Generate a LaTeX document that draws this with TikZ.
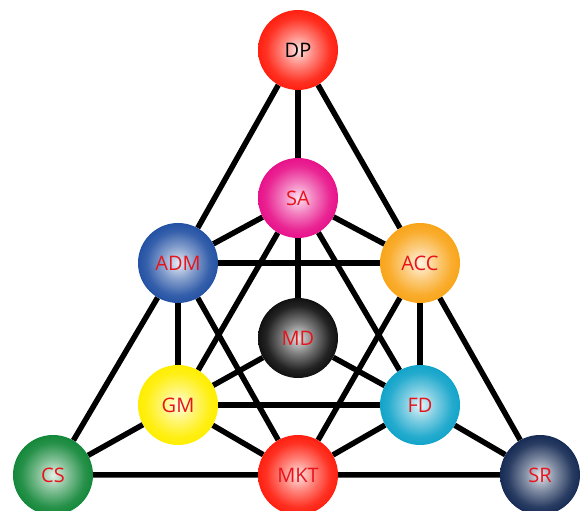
\documentclass[tikz,border=0pt]{standalone}
\usepackage{fontspec}
\setmainfont{Open Sans}
\usepackage{tikz}
\usetikzlibrary{backgrounds}

\definecolor{dpred}{HTML}{FF2010}
\definecolor{sapink}{HTML}{E8128A}
\definecolor{admblue}{HTML}{2452A4}
\definecolor{accorange}{HTML}{F9A51A}
\definecolor{mdblack}{HTML}{111111}
\definecolor{gmyellow}{HTML}{FFEE00}
\definecolor{fdcyan}{HTML}{12A4CA}
\definecolor{csgreen}{HTML}{14883A}
\definecolor{srnavy}{HTML}{172C55}
\definecolor{labelred}{HTML}{E8141C}
\colorlet{ballc}{red}

\pgfdeclareradialshading[ballc]{ballshade}{\pgfpoint{0bp}{0bp}}{%
  color(0bp)=(ballc!12!white); color(10bp)=(ballc!55!white);
  color(20bp)=(ballc!92!white); color(25bp)=(ballc); color(50bp)=(ballc)}

\tikzset{
  ball/.style={circle, minimum size=80pt, inner sep=0pt, font=\fontsize{20}{20}\selectfont,
    text=labelred, /utils/exec={\colorlet{ballc}{#1}}, shading=ballshade, shade},
  link/.style={line width=5.5pt, black}
}

\begin{document}
\begin{tikzpicture}[x=1pt, y=1pt]
    \useasboundingbox (0,0) rectangle (581,511);

    \node[ball=dpred, text=black] (DP) at (298,461) {DP};
    \node[ball=sapink] (SA) at (298,313) {SA};
    \node[ball=admblue] (ADM) at (178,248) {ADM};
    \node[ball=accorange] (ACC) at (420,248) {ACC};
    \node[ball=mdblack] (MD) at (298,173) {MD};
    \node[ball=gmyellow] (GM) at (178,106) {GM};
    \node[ball=fdcyan] (FD) at (420,106) {FD};
    \node[ball=csgreen] (CS) at (53,36) {CS};
    \node[ball=dpred] (MKT) at (298,36) {MKT};
    \node[ball=srnavy] (SR) at (540,36) {SR};

    \begin{scope}[on background layer]
    % outer triangle
    \draw[link] (DP) -- (ADM) -- (CS) -- (MKT) -- (SR) -- (ACC) -- (DP);
    \draw[link] (DP) -- (SA);
    % around SA
    \draw[link] (SA) -- (ADM);
    \draw[link] (SA) -- (ACC);
    \draw[link] (SA) -- (MD);
    \draw[link] (SA) -- (GM);
    \draw[link] (SA) -- (FD);
    % ADM and ACC
    \draw[link] (ADM) -- (ACC);
    \draw[link] (ADM) -- (GM);
    \draw[link] (ADM) -- (MKT);
    \draw[link] (ACC) -- (FD);
    \draw[link] (ACC) -- (MKT);
    % lower part
    \draw[link] (MD) -- (GM);
    \draw[link] (MD) -- (FD);
    \draw[link] (GM) -- (FD);
    \draw[link] (GM) -- (CS);
    \draw[link] (GM) -- (MKT);
    \draw[link] (FD) -- (MKT);
    \draw[link] (FD) -- (SR);
    \end{scope}
\end{tikzpicture}
\end{document}
